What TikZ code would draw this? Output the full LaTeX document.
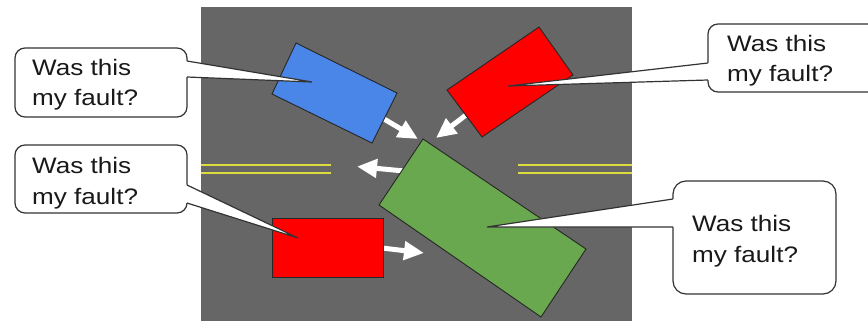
\documentclass[tikz,border=0pt]{standalone}
\usepackage{fontspec}
\setmainfont{Liberation Sans}
\usetikzlibrary{arrows.meta,calc}
\definecolor{road}{HTML}{666666}
\definecolor{lanecol}{RGB}{222,220,60}
\definecolor{carblue}{HTML}{4A86E8}
\definecolor{carred}{HTML}{FF0000}
\definecolor{cargreen}{HTML}{6AA84F}
\definecolor{edgecol}{HTML}{333333}
\begin{document}
\begin{tikzpicture}[x=1pt,y=-1pt,
  car/.style={draw=black!85, line width=0.9pt, line join=miter},
  laneline/.style={draw=lanecol, line width=1.6pt},
  move/.style={draw=white, line width=5pt, -{Triangle[length=20pt,width=18pt]}},
  bubble/.style={draw=edgecol, fill=white, line width=1.2pt},
  tail/.style={draw=edgecol, line width=1.2pt, line join=bevel},
  says/.style={anchor=base west, inner sep=0pt, font=\fontsize{22.4}{30}\selectfont, text=black!90}]
\useasboundingbox (0,0) rectangle (868,321);
\clip (0,0) rectangle (868,321);
% road
\fill[road] (201,7) rectangle (632,330);
\draw[laneline] (201,165) -- (331,165);
\draw[laneline] (201,173) -- (331,173);
\draw[laneline] (518,165) -- (632,165);
\draw[laneline] (518,173) -- (632,173);
% arrow end points
\coordinate (a1s) at (384,119);
\coordinate (a1e) at (418,139);
\coordinate (a2s) at (466,115);
\coordinate (a2e) at (436,138);
\coordinate (a3s) at (404,171);
\coordinate (a3e) at (357,166.5);
\coordinate (a4s) at (382,248);
\coordinate (a4e) at (424,253);
\draw[move] (a1s) -- (a1e);
\draw[move] (a2s) -- (a2e);
\draw[move] (a3s) -- (a3e);
\draw[move] (a4s) -- (a4e);
% cars
\draw[car, fill=carblue] (296,43) -- (397,93) -- (372,143) -- (272,94) -- cycle;
\draw[car, fill=carred] (539,27) -- (573,75) -- (482,137) -- (447,90) -- cycle;
\draw[car, fill=cargreen] (423,139) -- (586,249) -- (541,317) -- (379,205) -- cycle;
\draw[car, fill=carred] (272,218) rectangle (383,277);
% bubble 1
\coordinate (p1) at (312,82);
\coordinate (b1u) at (187,61);
\coordinate (b1d) at (187,77);
\draw[bubble, rounded corners=10pt] (15,48) rectangle (187,117);
\fill[white] ($(p1)!1.025!(b1u)$) -- (p1) -- ($(p1)!1.025!(b1d)$) -- cycle;
\draw[tail] (b1u) -- (p1) -- (b1d);
\node[says] (t1a) at (32,75.7) {\scalebox{1.165}[1]{Was this}};
\node[says] (t1b) at (32,106) {\scalebox{1.165}[1]{my fault?}};
% bubble 2
\coordinate (p2) at (508,86);
\coordinate (b2u) at (708,63);
\coordinate (b2d) at (708,80);
\draw[bubble, rounded corners=10pt] (708,24) rectangle (890,92);
\fill[white] ($(p2)!1.012!(b2u)$) -- (p2) -- ($(p2)!1.012!(b2d)$) -- cycle;
\draw[tail] (b2u) -- (p2) -- (b2d);
\node[says] (t2a) at (727,51.7) {\scalebox{1.165}[1]{Was this}};
\node[says] (t2b) at (727,81.7) {\scalebox{1.165}[1]{my fault?}};
% bubble 3
\coordinate (p3) at (298,238);
\coordinate (b3u) at (187,185);
\coordinate (b3d) at (187,203);
\draw[bubble, rounded corners=10pt] (15,145) rectangle (187,213);
\fill[white] ($(p3)!1.025!(b3u)$) -- (p3) -- ($(p3)!1.025!(b3d)$) -- cycle;
\draw[tail] (b3u) -- (p3) -- (b3d);
\node[says] (t3a) at (32,173.3) {\scalebox{1.165}[1]{Was this}};
\node[says] (t3b) at (32,204) {\scalebox{1.165}[1]{my fault?}};
% bubble 4
\coordinate (p4) at (487,227);
\coordinate (b4u) at (673,199);
\coordinate (b4d) at (673,227);
\draw[bubble, rounded corners=13pt] (673,181) rectangle (836,294);
\fill[white] ($(p4)!1.015!(b4u)$) -- (p4) -- ($(p4)!1.015!(b4d)$) -- cycle;
\draw[tail] (b4u) -- (p4) -- (b4d);
\node[says] (t4a) at (692,231.7) {\scalebox{1.165}[1]{Was this}};
\node[says] (t4b) at (692,262.7) {\scalebox{1.165}[1]{my fault?}};
\end{tikzpicture}
\end{document}
